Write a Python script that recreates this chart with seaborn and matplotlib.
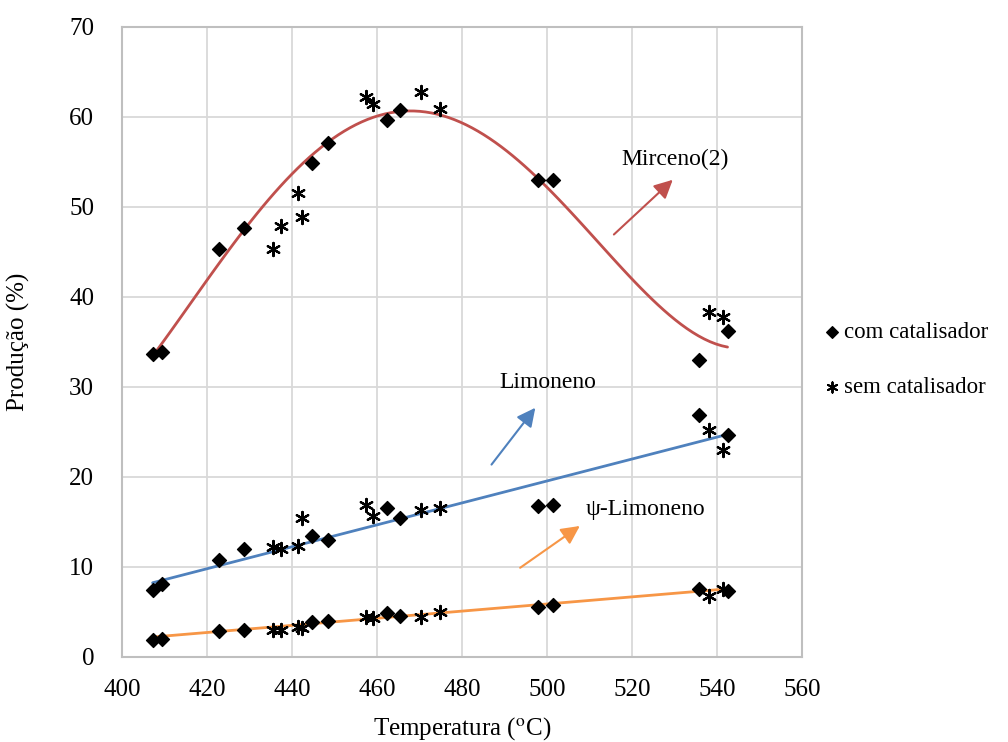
import matplotlib
matplotlib.use("Agg")
import matplotlib.pyplot as plt
import seaborn as sns
import pandas as pd

# dados
temp_com = [407.2, 409.4, 422.9, 428.6, 444.8, 448.5, 462.4, 465.4, 497.9, 501.4, 535.8, 542.4]
mirceno_com = [33.6, 33.8, 45.3, 47.6, 54.9, 57.1, 59.6, 60.7, 53.0, 53.0, 33.0, 36.2]
limoneno_com = [7.4, 8.1, 10.7, 12.0, 13.4, 13.0, 16.5, 15.4, 16.7, 16.9, 26.8, 24.6]
psi_com = [1.9, 2.0, 2.9, 3.0, 3.9, 4.0, 4.9, 4.5, 5.5, 5.7, 7.5, 7.3]

temp_sem = [435.5, 437.5, 441.4, 442.4, 457.3, 459.1, 470.4, 474.9, 538.1, 541.3]
mirceno_sem = [45.3, 47.8, 51.5, 48.9, 62.2, 61.4, 62.7, 60.9, 38.3, 37.7]
limoneno_sem = [12.2, 12.0, 12.3, 15.4, 16.9, 15.6, 16.3, 16.5, 25.2, 23.0]
psi_sem = [3.0, 3.0, 3.3, 3.2, 4.4, 4.3, 4.4, 5.0, 6.7, 7.5]

x_ticks = [400, 420, 440, 460, 480, 500, 520, 540, 560]
y_ticks = [0, 10, 20, 30, 40, 50, 60, 70]

sns.set_theme(style="whitegrid")
plt.rcParams['font.family'] = ['Liberation Serif', 'DejaVu Serif']
plt.rcParams['mathtext.fontset'] = 'stix'
plt.rcParams['text.color'] = 'black'
plt.rcParams['xtick.color'] = 'black'
plt.rcParams['ytick.color'] = 'black'
plt.rcParams['axes.labelcolor'] = 'black'

fig = plt.figure(figsize=(10.08, 7.42), dpi=100)
ax = fig.add_axes([0.121, 0.115, 0.675, 0.849])

# linhas de tendência (ajustadas aos pontos com catalisador)
sns.regplot(x=temp_com, y=mirceno_com, order=4, scatter=False, ci=None, truncate=True,
            color='#C0504D', line_kws={'linewidth': 2}, ax=ax)
sns.regplot(x=temp_com, y=limoneno_com, order=1, scatter=False, ci=None, truncate=True,
            color='#4F81BD', line_kws={'linewidth': 2}, ax=ax)
sns.regplot(x=temp_com, y=psi_com, order=1, scatter=False, ci=None, truncate=True,
            color='#F79646', line_kws={'linewidth': 2}, ax=ax)

# pontos
for serie in [mirceno_com, limoneno_com, psi_com]:
    ax.scatter(temp_com, serie, marker='D', s=50, color='black', zorder=3)
for serie in [mirceno_sem, limoneno_sem, psi_sem]:
    ax.scatter(temp_sem, serie, marker=(6, 2, 0), s=90, color='black', linewidths=1.6, zorder=3)

# anotações
seta = dict(arrowstyle='-|>', lw=1.5, mutation_scale=28)
ax.annotate('', xy=(530.0, 53.2), xytext=(515.2, 46.7), arrowprops=dict(seta, color='#C0504D'))
ax.text(530.0, 55.2, 'Mirceno(2)', fontsize=17, ha='center', va='center')
ax.annotate('', xy=(497.6, 27.9), xytext=(486.5, 21.1), arrowprops=dict(seta, color='#4F81BD'))
ax.text(500.2, 30.5, 'Limoneno', fontsize=17, ha='center', va='center')
ax.annotate('', xy=(508.2, 14.7), xytext=(493.1, 9.7), arrowprops=dict(seta, color='#F79646'))
ax.text(523.0, 16.3, 'ψ-Limoneno', fontsize=17, ha='center', va='center')

ax.set_xlim(400, 560)
ax.set_ylim(0, 70)
ax.set_xticks(x_ticks)
ax.set_yticks(y_ticks)
ax.tick_params(labelsize=18, length=0)
ax.tick_params(axis='x', pad=16)
ax.tick_params(axis='y', pad=20)
ax.grid(True, color='#D9D9D9', linewidth=1.3)
for s in ax.spines.values():
    s.set_color('#BFBFBF')
    s.set_linewidth(1.5)

ax.set_xlabel('Temperatura ($^{\\mathrm{o}}$C)', fontsize=18, labelpad=10)
ax.set_ylabel('Produção (%)', fontsize=18, labelpad=28)

# legenda fora do gráfico
h1 = ax.scatter([], [], marker='D', s=35, color='black')
h2 = ax.scatter([], [], marker=(6, 2, 0), s=55, color='black', linewidths=1.4)
fig.legend([h1, h2], ['com catalisador', 'sem catalisador'], loc='center left',
           bbox_to_anchor=(0.80, 0.515), frameon=False, fontsize=16.5,
           handletextpad=0.05, labelspacing=1.5, handlelength=1.0, borderaxespad=0.2)

fig.savefig('out.png', dpi=100)
